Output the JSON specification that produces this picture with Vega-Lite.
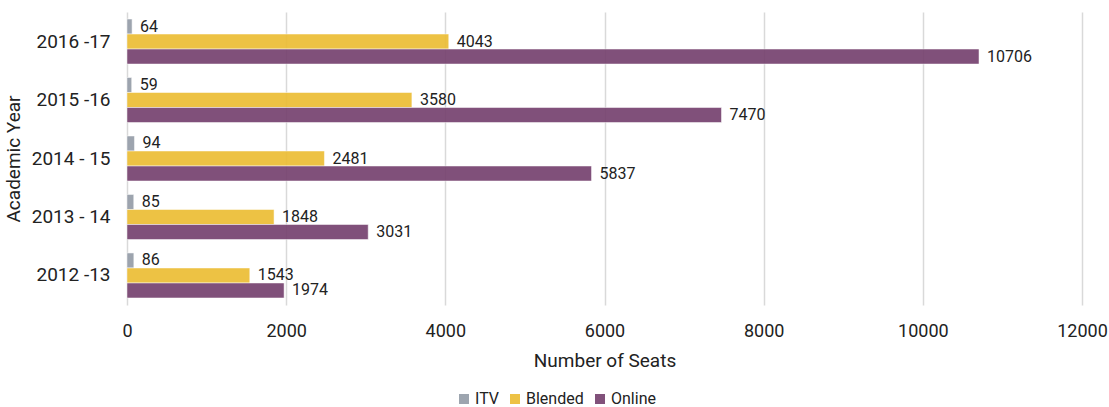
{
  "$schema": "https://vega.github.io/schema/vega-lite/v6.json",
  "autosize": "none",
  "width": 955,
  "height": 293,
  "padding": {"left": 127, "top": 12, "right": 27, "bottom": 102},
  "background": "white",
  "config": {
    "font": "Roboto",
    "view": {"stroke": null}
  },
  "data": {
    "values": [
      {"year": "2016 -17", "type": "ITV", "seats": 64},
      {"year": "2016 -17", "type": "Blended", "seats": 4043},
      {"year": "2016 -17", "type": "Online", "seats": 10706},
      {"year": "2015 -16", "type": "ITV", "seats": 59},
      {"year": "2015 -16", "type": "Blended", "seats": 3580},
      {"year": "2015 -16", "type": "Online", "seats": 7470},
      {"year": "2014 - 15", "type": "ITV", "seats": 94},
      {"year": "2014 - 15", "type": "Blended", "seats": 2481},
      {"year": "2014 - 15", "type": "Online", "seats": 5837},
      {"year": "2013 - 14", "type": "ITV", "seats": 85},
      {"year": "2013 - 14", "type": "Blended", "seats": 1848},
      {"year": "2013 - 14", "type": "Online", "seats": 3031},
      {"year": "2012 -13", "type": "ITV", "seats": 86},
      {"year": "2012 -13", "type": "Blended", "seats": 1543},
      {"year": "2012 -13", "type": "Online", "seats": 1974}
    ]
  },
  "encoding": {
    "y": {
      "field": "year",
      "type": "nominal",
      "sort": ["2016 -17", "2015 -16", "2014 - 15", "2013 - 14", "2012 -13"],
      "scale": {"paddingInner": 0.23, "paddingOuter": 0.12},
      "axis": {
        "title": "Academic Year",
        "titleFontSize": 19,
        "titleFontWeight": "normal",
        "titleColor": "#222",
        "titlePadding": 8,
        "labelFontSize": 19,
        "labelColor": "#222",
        "labelPadding": 17,
        "ticks": false,
        "domain": false
      }
    },
    "yOffset": {
      "field": "type",
      "type": "nominal",
      "sort": ["ITV", "Blended", "Online"]
    },
    "x": {
      "field": "seats",
      "type": "quantitative",
      "scale": {"domain": [0, 12000], "nice": false},
      "axis": {
        "title": "Number of Seats",
        "titleFontSize": 19,
        "titleFontWeight": "normal",
        "titleColor": "#222",
        "titlePadding": 11,
        "labelFontSize": 18,
        "labelColor": "#222",
        "labelPadding": 17,
        "values": [0, 2000, 4000, 6000, 8000, 10000, 12000],
        "format": "d",
        "labelOverlap": false,
        "ticks": false,
        "domain": false,
        "grid": true,
        "gridColor": "#d9d9d9",
        "gridWidth": 1.5,
        "labelFlush": false
      }
    }
  },
  "layer": [
    {
      "mark": {"type": "bar", "opacity": 0.92, "stroke": "white", "strokeWidth": 0.5},
      "encoding": {
        "color": {
          "field": "type",
          "type": "nominal",
          "sort": ["ITV", "Blended", "Online"],
          "scale": {"domain": ["ITV", "Blended", "Online"], "range": ["#959da8", "#ecbd35", "#76426f"]},
          "legend": {
            "title": null,
            "orient": "none",
            "legendX": 329,
            "legendY": 379,
            "direction": "horizontal",
            "symbolType": "square",
            "symbolSize": 100,
            "symbolStrokeWidth": 0,
            "labelFontSize": 16,
            "labelColor": "#222",
            "labelOffset": 3,
            "columnPadding": 8
          }
        }
      }
    },
    {
      "mark": {"type": "text", "align": "left", "baseline": "middle", "dx": 8, "fontSize": 16, "color": "#222"},
      "encoding": {
        "text": {"field": "seats", "type": "quantitative", "format": "d"}
      }
    }
  ]
}
